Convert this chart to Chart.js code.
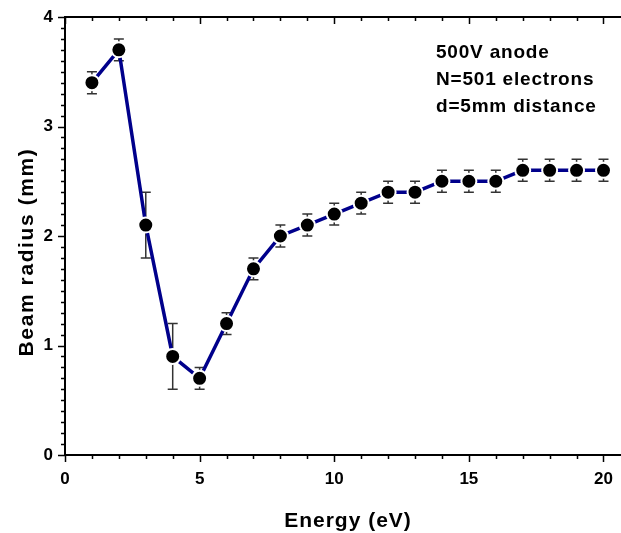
<!DOCTYPE html>
<html>
<head>
<meta charset="utf-8">
<script src="https://cdn.jsdelivr.net/npm/chart.js@4/dist/chart.umd.min.js"></script>
<style>
  html, body { margin:0; padding:0; background:#fff; }
  #wrap { width:621px; height:533px; position:relative; }
</style>
</head>
<body>
<div id="wrap"><canvas id="c"></canvas></div>
<script>
// data
const energy = [1,2,3,4,5,6,7,8,9,10,11,12,13,14,15,16,17,18,19,20];
const radius = [3.4,3.7,2.1,0.9,0.7,1.2,1.7,2.0,2.1,2.2,2.3,2.4,2.4,2.5,2.5,2.5,2.6,2.6,2.6,2.6];
const radiusErr = [0.1,0.1,0.3,0.3,0.1,0.1,0.1,0.1,0.1,0.1,0.1,0.1,0.1,0.1,0.1,0.1,0.1,0.1,0.1,0.1];

const xMajor = [0,5,10,15,20];
const yMajor = [0,1,2,3,4];
const noteLines = ["500V anode", "N=501 electrons", "d=5mm distance"];
const xTitle = "Energy (eV)";
const yTitle = "Beam radius (mm)";

const FONT = '"Liberation Sans", Arial, sans-serif';

// error bars under the line + markers
const errorBars = {
  id: "errorBars",
  beforeDatasetsDraw(chart) {
    const ctx = chart.ctx, xs = chart.scales.x, ys = chart.scales.y;
    ctx.save();
    ctx.strokeStyle = "#333";
    ctx.lineWidth = 1.5;
    energy.forEach((e, i) => {
      const px = xs.getPixelForValue(e);
      const top = ys.getPixelForValue(radius[i] + radiusErr[i]);
      const bot = ys.getPixelForValue(radius[i] - radiusErr[i]);
      ctx.beginPath();
      ctx.moveTo(px, top); ctx.lineTo(px, bot);
      ctx.moveTo(px - 5, top); ctx.lineTo(px + 5, top);
      ctx.moveTo(px - 5, bot); ctx.lineTo(px + 5, bot);
      ctx.stroke();
    });
    ctx.restore();
  }
};

// axes frame, ticks, labels, titles, note
const axesDeco = {
  id: "axesDeco",
  afterDraw(chart) {
    const ctx = chart.ctx, xs = chart.scales.x, ys = chart.scales.y;
    const a = chart.chartArea;
    ctx.save();
    ctx.strokeStyle = "#000";
    ctx.lineWidth = 2;
    ctx.beginPath();
    ctx.moveTo(a.left, a.top); ctx.lineTo(a.left, a.bottom);
    ctx.moveTo(a.left - 1, a.bottom); ctx.lineTo(a.right, a.bottom);
    ctx.moveTo(a.left - 1, a.top); ctx.lineTo(a.right, a.top);
    ctx.stroke();

    ctx.lineWidth = 1.5;
    ctx.beginPath();
    for (let v = 0; v <= 20; v++) {
      const px = Math.round(xs.getPixelForValue(v)) + 0.5;
      const len = xMajor.includes(v) ? 7 : 4;
      ctx.moveTo(px, a.bottom); ctx.lineTo(px, a.bottom + len);
      ctx.moveTo(px, a.top); ctx.lineTo(px, a.top + len);
    }
    for (let k = 0; k <= 40; k++) {
      const v = k / 10;
      const py = Math.round(ys.getPixelForValue(v)) + 0.5;
      const len = (k % 10 === 0) ? 7 : 4;
      ctx.moveTo(a.left, py); ctx.lineTo(a.left - len, py);
    }
    ctx.stroke();

    ctx.fillStyle = "#000";
    ctx.font = "bold 17px " + FONT;
    ctx.textAlign = "center";
    ctx.textBaseline = "alphabetic";
    xMajor.forEach(v => ctx.fillText(String(v), xs.getPixelForValue(v), a.bottom + 29));
    ctx.textAlign = "right";
    ctx.textBaseline = "middle";
    yMajor.forEach(v => ctx.fillText(String(v), a.left - 12, ys.getPixelForValue(v)));

    ctx.font = "bold 21px " + FONT;
    ctx.letterSpacing = "1px";
    ctx.textAlign = "center";
    ctx.textBaseline = "middle";
    ctx.fillText(xTitle, 348, 521);
    ctx.save();
    ctx.translate(27, 252);
    ctx.rotate(-Math.PI / 2);
    ctx.letterSpacing = "1.6px";
    ctx.fillText(yTitle, 0, 0);
    ctx.restore();

    ctx.font = "bold 19px " + FONT;
    ctx.letterSpacing = "0.8px";
    ctx.textAlign = "left";
    ctx.textBaseline = "alphabetic";
    noteLines.forEach((t, i) => ctx.fillText(t, 436, 58 + i * 27));
    ctx.restore();
  }
};

new Chart(document.getElementById("c"), {
  type: "line",
  data: {
    datasets: [{
      data: energy.map((e, i) => ({ x: e, y: radius[i] })),
      borderColor: "#00008b",
      borderWidth: 3.5,
      backgroundColor: "#000",
      pointBackgroundColor: "#000",
      pointBorderColor: "#fff",
      pointBorderWidth: 2,
      pointRadius: 7.5,
      tension: 0,
      clip: false
    }]
  },
  options: {
    responsive: true,
    maintainAspectRatio: false,
    animation: false,
    layout: { autoPadding: false, padding: { left: 65, top: 17, right: 0, bottom: 78 } },
    plugins: { legend: { display: false }, tooltip: { enabled: false } },
    scales: {
      x: { type: "linear", min: 0, max: 20.65, display: false },
      y: { type: "linear", min: 0, max: 4, display: false }
    }
  },
  plugins: [errorBars, axesDeco]
});
</script>
</body>
</html>
